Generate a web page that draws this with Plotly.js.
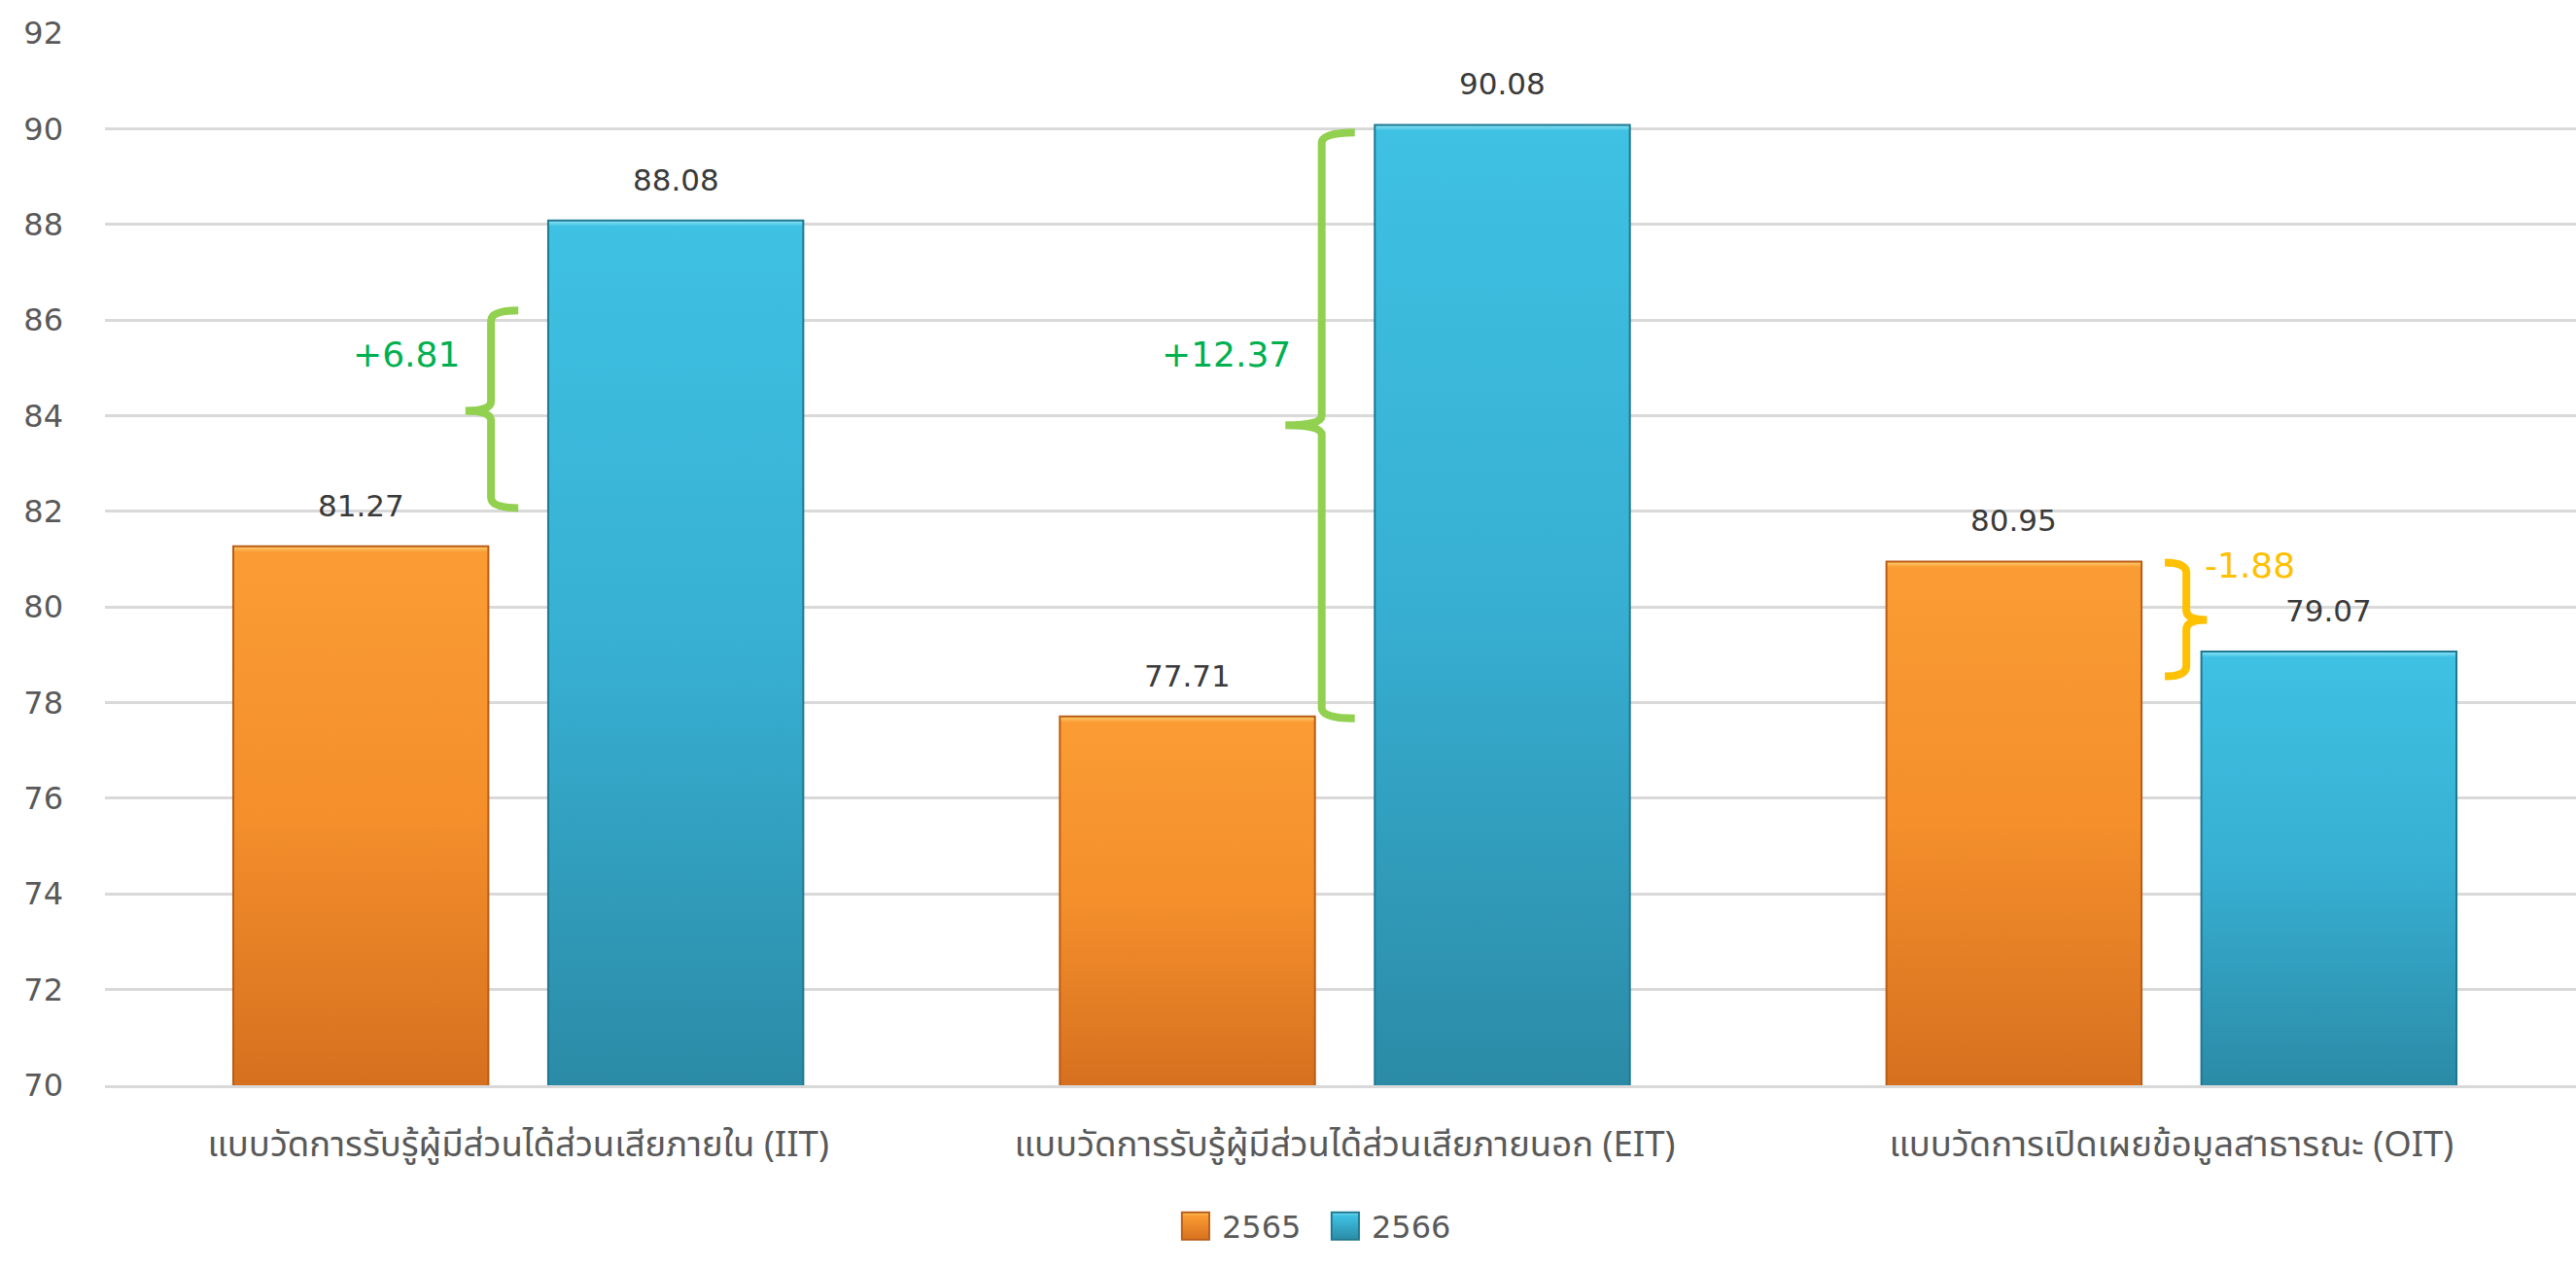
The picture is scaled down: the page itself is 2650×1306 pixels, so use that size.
<!DOCTYPE html>
<html><head><meta charset="utf-8">
<script src="https://cdn.plot.ly/plotly-3.0.1.min.js"></script>
<style>html,body{margin:0;padding:0;overflow:hidden;background:#fff}#chart{width:2659px;height:1306px}</style>
</head><body><div id="chart"></div>
<script>
// ---- data ----
const categories = [
  'แบบวัดการรับรู้ผู้มีส่วนได้ส่วนเสียภายใน (IIT)',
  'แบบวัดการรับรู้ผู้มีส่วนได้ส่วนเสียภายนอก (EIT)',
  'แบบวัดการเปิดเผยข้อมูลสาธารณะ (OIT)'
];
const seriesNames = ['2565', '2566'];
const values2565 = [81.27, 77.71, 80.95];
const values2566 = [88.08, 90.08, 79.07];
const changeLabels = ['+6.81', '+12.37', '-1.88'];
const yTickVals = [70, 72, 74, 76, 78, 80, 82, 84, 86, 88, 90, 92];

// ---- style ----
const FONT = 'DejaVu Sans, "Noto Sans Thai", "Noto Sans", sans-serif';
const THAI = '"Noto Sans Thai", "Noto Sans", DejaVu Sans, sans-serif';
const BARGAP = 0.238, GROUPGAP = 0.19;
const slotOffset = (1 - BARGAP) / 4; // center offset of each bar within a category
const braceStyle = [
  {xl: -0.033, xh: 0.000, xp: -0.064, top: 86.2, mid: 84.1, bot: 82.07, color: '#92D050', tx: -0.068, ty: 85.27, tcolor: '#00B050', anchor: 'right'},
  {xl: 0.972,  xh: 1.012, xp: 0.928,  top: 89.92, mid: 83.8, bot: 77.67, color: '#92D050', tx: 0.937, ty: 85.28, tcolor: '#00B050', anchor: 'right'},
  {xl: 2.018,  xh: 1.992, xp: 2.043,  top: 80.93, mid: 79.73, bot: 78.55, color: '#FFC000', tx: 2.038, ty: 80.86, tcolor: '#FFC000', anchor: 'left'}
];

function bracePath(b) {
  const r = 0.22, r2 = 0.2;
  return `M${b.xh},${b.top} Q${b.xl},${b.top} ${b.xl},${b.top - r} L${b.xl},${b.mid + r2} ` +
         `Q${b.xl},${b.mid} ${b.xp},${b.mid} Q${b.xl},${b.mid} ${b.xl},${b.mid - r2} ` +
         `L${b.xl},${b.bot + r} Q${b.xl},${b.bot} ${b.xh},${b.bot}`;
}

const traces = [
  {type: 'bar', name: seriesNames[0], x: categories, y: values2565,
   marker: {color: '#F7962F', line: {color: '#B95C17', width: 2}}, hoverinfo: 'skip'},
  {type: 'bar', name: seriesNames[1], x: categories, y: values2566,
   marker: {color: '#38B4D8', line: {color: '#1F7790', width: 2}}, hoverinfo: 'skip'}
];

const annotations = [];
[values2565, values2566].forEach((vals, s) => {
  vals.forEach((v, i) => {
    annotations.push({
      x: i + (s === 0 ? -slotOffset : slotOffset), y: v, xref: 'x', yref: 'y',
      text: v.toFixed(2), showarrow: false, yanchor: 'bottom', yshift: 22,
      font: {family: FONT, size: 31, color: '#3A3A3A'}
    });
  });
});
braceStyle.forEach((b, i) => {
  annotations.push({
    x: b.tx, y: b.ty, xref: 'x', yref: 'y', text: changeLabels[i], showarrow: false,
    xanchor: b.anchor, yanchor: 'middle',
    font: {family: FONT, size: 36, color: b.tcolor}
  });
});

const shapes = braceStyle.map(b => ({
  type: 'path', xref: 'x', yref: 'y', path: bracePath(b),
  line: {color: b.color, width: 8}, layer: 'above'
}));

const layout = {
  width: 2659, height: 1306,
  margin: {l: 108, r: 0, t: 34, b: 190},
  paper_bgcolor: '#ffffff', plot_bgcolor: '#ffffff',
  barmode: 'group', bargap: BARGAP, bargroupgap: GROUPGAP,
  showlegend: true,
  legend: {orientation: 'h', x: 0.4347, xanchor: 'left', y: -0.134, yanchor: 'middle',
           font: {family: FONT, size: 32, color: '#595959'}, entrywidth: 109, itemclick: false},
  xaxis: {type: 'category', showgrid: false, showline: true, linecolor: '#D9D9D9', linewidth: 3,
          ticks: '', ticklabelstandoff: 26, tickfont: {family: THAI, size: 36.5, color: '#595959'},
          fixedrange: true},
  yaxis: {range: [70, 92], tickvals: yTickVals, showgrid: true, gridcolor: '#D9D9D9', gridwidth: 3,
          zeroline: false, showline: false, ticks: '', ticklabelstandoff: 42,
          tickfont: {family: FONT, size: 32, color: '#595959'}, fixedrange: true},
  annotations: annotations, shapes: shapes
};

function addGradients(gd) {
  const svg = gd.querySelector('svg.main-svg');
  const defs = svg.querySelector('defs');
  const ns = 'http://www.w3.org/2000/svg';
  const palettes = [
    {hi: '#FFD070', top: '#FA9C33', mid: '#F48F2C', bot: '#D6701F'},
    {hi: '#8FE6F8', top: '#3EC1E3', mid: '#37AFD2', bot: '#2B8BA6'}
  ];
  function makeGrad(id, stops, user, y1, y2) {
    const lg = document.createElementNS(ns, 'linearGradient');
    lg.setAttribute('id', id);
    if (user) {
      lg.setAttribute('gradientUnits', 'userSpaceOnUse');
      lg.setAttribute('x1', '0'); lg.setAttribute('x2', '0');
      lg.setAttribute('y1', y1); lg.setAttribute('y2', y2);
    } else {
      lg.setAttribute('x1', '0'); lg.setAttribute('y1', '0');
      lg.setAttribute('x2', '0'); lg.setAttribute('y2', '1');
    }
    stops.forEach(([o, c]) => {
      const st = document.createElementNS(ns, 'stop');
      st.setAttribute('offset', o); st.setAttribute('stop-color', c);
      lg.appendChild(st);
    });
    defs.appendChild(lg);
  }
  const plotH = gd._fullLayout._size.h;
  gd.querySelectorAll('.barlayer .trace').forEach((tg, i) => {
    const pal = palettes[i];
    tg.querySelectorAll('path').forEach((p, j) => {
      const bb = p.getBBox();
      const top = bb.y, span = Math.max(1, plotH - top);
      const h = Math.min(0.05, 6 / span);
      const id = `bg${i}_${j}`;
      makeGrad(id, [[0, pal.hi], [h, pal.top], [0.5, pal.mid], [1, pal.bot]], true, top, plotH);
      p.style.fill = `url(#${id})`;
    });
  });
  gd.querySelectorAll('.legend .traces').forEach((lt, i) => {
    const pal = palettes[i];
    const id = `lg${i}`;
    makeGrad(id, [[0, pal.hi], [0.12, pal.top], [1, pal.bot]], false);
    lt.querySelectorAll('.legendpoints path').forEach(p => {
      p.style.fill = `url(#${id})`;
      p.setAttribute('transform', 'translate(13,0) scale(2.35)');
      p.style.strokeWidth = '0.8px';
    });
  });
  gd.querySelectorAll('.legend [clip-path]').forEach(el => el.removeAttribute('clip-path'));
}

Plotly.newPlot('chart', traces, layout, {displayModeBar: false, staticPlot: true}).then(addGradients);
</script>
</body></html>
